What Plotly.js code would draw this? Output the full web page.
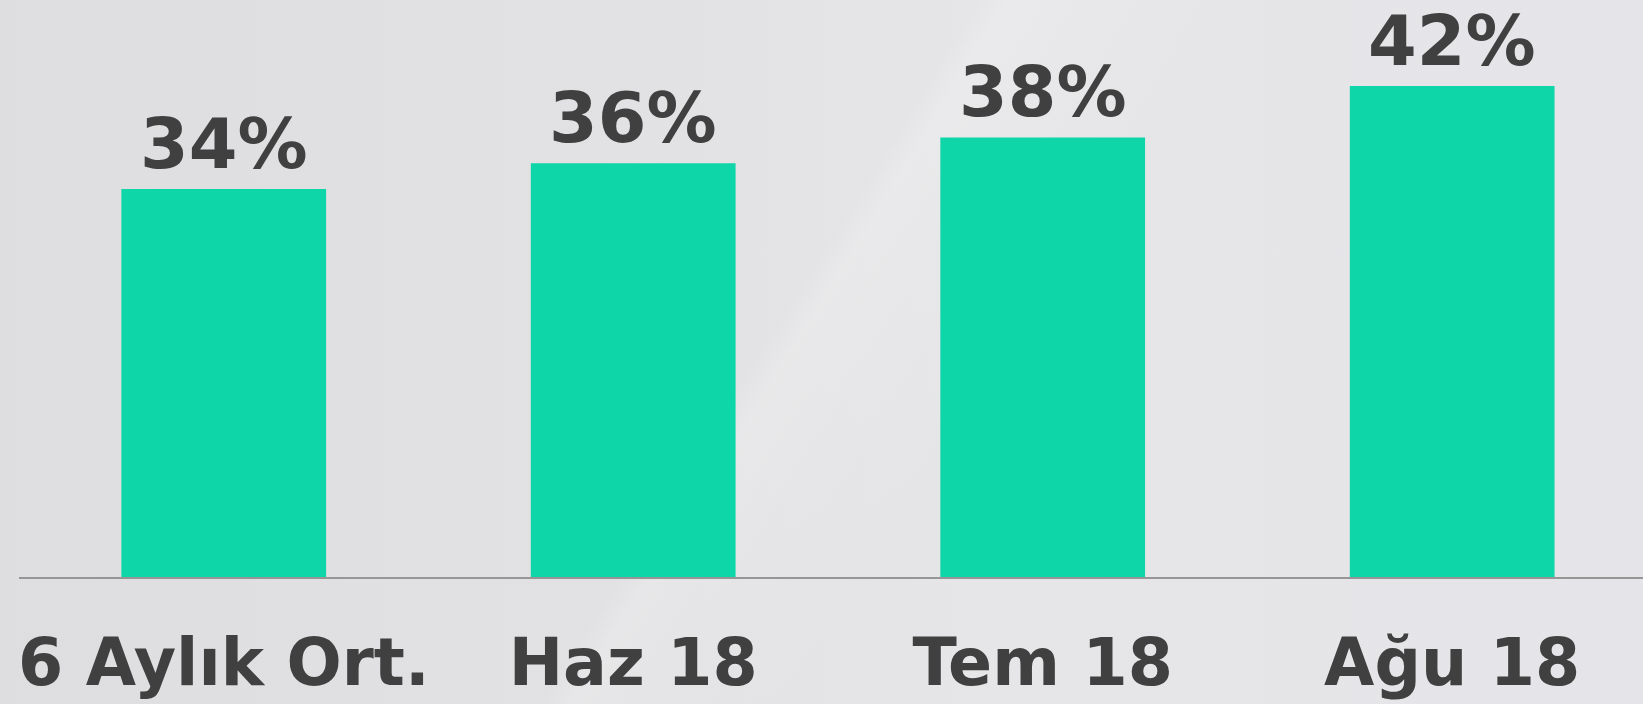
<!DOCTYPE html>
<html>
<head>
<meta charset="utf-8">
<script src="https://cdn.plot.ly/plotly-3.0.1.min.js"></script>
<style>
html, body { margin: 0; padding: 0; }
body {
  width: 1643px; height: 704px; overflow: hidden;
  background:
    linear-gradient(122deg, rgba(255,255,255,0) 0%, rgba(255,255,255,0) 47%, rgba(255,255,255,0.18) 48.5%, rgba(255,255,255,0.08) 53%, rgba(255,255,255,0) 60%, rgba(255,255,255,0) 100%),
    linear-gradient(90deg, #dedee0 0%, #e2e2e4 40%, #e6e6e8 60%, #e5e5e9 100%);
}
#chart { width: 1643px; height: 704px; }
</style>
</head>
<body>
<div id="chart"></div>
<script>
const categories = ["6 Aylık Ort.", "Haz 18", "Tem 18", "Ağu 18"];
const values = [34, 36, 38, 42];
const valueLabels = ["34%", "36%", "38%", "42%"];

const trace = {
  type: "bar",
  x: categories,
  y: values,
  marker: { color: "#0ed6a8" },
  hoverinfo: "skip"
};

const annotations = categories.map((c, i) => ({
  x: c,
  y: values[i],
  xref: "x",
  yref: "y",
  text: valueLabels[i],
  showarrow: false,
  xanchor: "center",
  yanchor: "bottom",
  borderpad: 0,
  yshift: 3,
  font: { family: "DejaVu Sans", size: 70, color: "#404040", weight: "bold" }
}));

const layout = {
  width: 1643,
  height: 704,
  margin: { l: 19, r: 0, t: 0, b: 127, pad: 0 },
  paper_bgcolor: "rgba(0,0,0,0)",
  plot_bgcolor: "rgba(0,0,0,0)",
  bargap: 0.5,
  showlegend: false,
  annotations: annotations,
  xaxis: {
    type: "category",
    range: [-0.5, 3.466],
    showline: true,
    linecolor: "#969696",
    linewidth: 2,
    showgrid: false,
    zeroline: false,
    ticks: "",
    tickfont: { family: "DejaVu Sans", size: 65, color: "#404040", weight: "bold" },
    ticklabelstandoff: 28
  },
  yaxis: {
    range: [3.86, 48.68],
    visible: false,
    showgrid: false,
    zeroline: false
  }
};

Plotly.newPlot("chart", [trace], layout, { staticPlot: true, displayModeBar: false });
</script>
</body>
</html>
